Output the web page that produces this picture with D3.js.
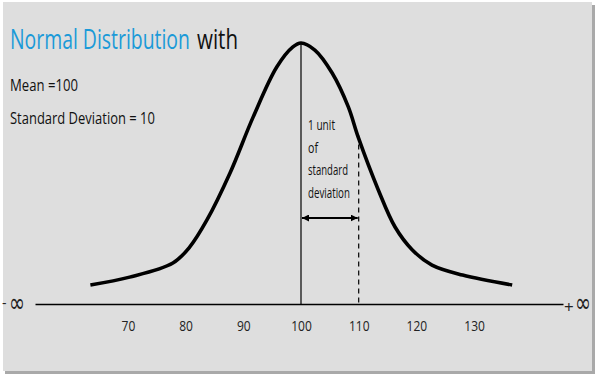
<!DOCTYPE html>
<html><head><meta charset="utf-8">
<script src="https://cdn.jsdelivr.net/npm/d3@7"></script>
<style>
html,body{margin:0;padding:0;background:#fff;}
svg{display:block;}
text{font-family:"Open Sans","Noto Sans",sans-serif;}
</style></head>
<body>
<script>
// ---- data ----
const curveX = [63.5, 70.3, 77.8, 80.7, 83.7, 87.7, 91.7, 95.8, 98.6, 100, 102.4, 105.4, 108.2, 109.9, 113.4, 116.3, 119.3, 122.7, 128.0, 136.6];
const curveY = [0.073, 0.103, 0.157, 0.218, 0.322, 0.502, 0.716, 0.908, 0.985, 1.0, 0.973, 0.885, 0.755, 0.640, 0.437, 0.295, 0.207, 0.149, 0.111, 0.073];
const tickValues = [70, 80, 90, 100, 110, 120, 130];
const mean = 100;
const sd = 10;
const titleBlue = "Normal Distribution";
const titleBlack = "with";
const infoLines = ["Mean =100", "Standard Deviation = 10"];
const sdLabel = ["1 unit", "of", "standard", "deviation"];

const W = 597, H = 377;
const svg = d3.select("body").append("svg").attr("width", W).attr("height", H);

function fit(sel, ratio) {
  sel.each(function(){
    const w = this.getComputedTextLength();
    d3.select(this).attr("textLength", w*ratio).attr("lengthAdjust","spacingAndGlyphs");
  });
  return sel;
}
// place a text squeezed horizontally to a target width using a transform
function squeezed(x0, y0, size, color, str, width) {
  const g = svg.append("g");
  const tx = g.append("text").attr("font-size", size).attr("fill", color).text(str);
  const w = tx.node().getComputedTextLength();
  g.attr("transform", `translate(${x0},${y0}) scale(${width / w},1)`);
  return tx;
}

const defs = svg.append("defs");
defs.append("marker").attr("id","arr")
  .attr("viewBox","0 0 10 10").attr("refX",10).attr("refY",5)
  .attr("markerWidth",3.5).attr("markerHeight",3.5).attr("markerUnits","strokeWidth")
  .attr("orient","auto-start-reverse")
  .append("path").attr("d","M0,0 L10,5 L0,10 z").attr("fill","#000");

// panel with shadow
svg.append("rect").attr("x",5).attr("y",5).attr("width",590).attr("height",369).attr("fill","#a9a9a9");
svg.append("rect").attr("x",3).attr("y",2).attr("width",589).attr("height",369).attr("fill","#dedede");

// scales
const x = d3.scaleLinear().domain([100 - 10*(301-35)/57.7, 100 + 10*(563-301)/57.7]).range([35, 563]);
const y = d3.scaleLinear().domain([0, 1]).range([304, 43]);

// axis
const axis = d3.axisBottom(x).tickValues(tickValues).tickSize(0).tickPadding(16).tickFormat(d3.format("d"));
const gAx = svg.append("g").attr("transform", `translate(0,${y(0)})`).call(axis);
gAx.select(".domain").attr("stroke","#000").attr("stroke-width",1.6);
gAx.selectAll(".tick text").attr("font-size",15).attr("fill","#222")
  .style("font-family",'"Open Sans","Noto Sans",sans-serif');
fit(gAx.selectAll(".tick text"), 0.8);

// infinity labels
svg.append("text").attr("x",2).attr("y",y(0)+4).attr("font-size",14).attr("fill","#222").text("-");
svg.append("text").attr("x",9).attr("y",y(0)+8).attr("font-size",27).attr("fill","#222")
  .attr("textLength",16).attr("lengthAdjust","spacingAndGlyphs")
  .style("font-family","DejaVu Sans").text("∞");
svg.append("text").attr("x",x.range()[1]+1).attr("y",y(0)+9).attr("font-size",17).attr("fill","#222").text("+");
svg.append("text").attr("x",x.range()[1]+12).attr("y",y(0)+8).attr("font-size",27).attr("fill","#222")
  .attr("textLength",16).attr("lengthAdjust","spacingAndGlyphs")
  .style("font-family","DejaVu Sans").text("∞");

// mean line
svg.append("line").attr("x1",x(mean)).attr("x2",x(mean)).attr("y1",y(1)).attr("y2",y(0))
  .attr("stroke","#000").attr("stroke-width",1.2);
// sd dashed line
svg.append("line").attr("x1",x(mean+sd)).attr("x2",x(mean+sd)).attr("y1",y(0.63)-4).attr("y2",y(0))
  .attr("stroke","#000").attr("stroke-width",1.2).attr("stroke-dasharray","5,4");
// double arrow
svg.append("line").attr("x1",x(mean)+1).attr("x2",x(mean+sd)-1).attr("y1",218).attr("y2",218)
  .attr("stroke","#000").attr("stroke-width",2)
  .attr("marker-start","url(#arr)").attr("marker-end","url(#arr)");

// curve
const line = d3.line().x((d,i)=>x(curveX[i])).y((d,i)=>y(curveY[i])).curve(d3.curveCatmullRom.alpha(0.5));
svg.append("path").datum(curveX).attr("d", line).attr("fill","none").attr("stroke","#000")
  .attr("stroke-width",3.6).attr("stroke-linecap","butt");

// title
squeezed(10, 49, 27, "#1b9ad8", titleBlue, 180);
squeezed(197, 49, 27, "#111", titleBlack, 41);

const infoW = [68, 145];
infoLines.forEach((s,i)=>{
  squeezed(10, [91,124][i], 17, "#111", s, infoW[i]);
});

const sdW = [27, 10, 40, 42];
sdLabel.forEach((s,i)=>{
  squeezed(308, 130 + i*22.7, 14.5, "#111", s, sdW[i]);
});
</script>
</body></html>
